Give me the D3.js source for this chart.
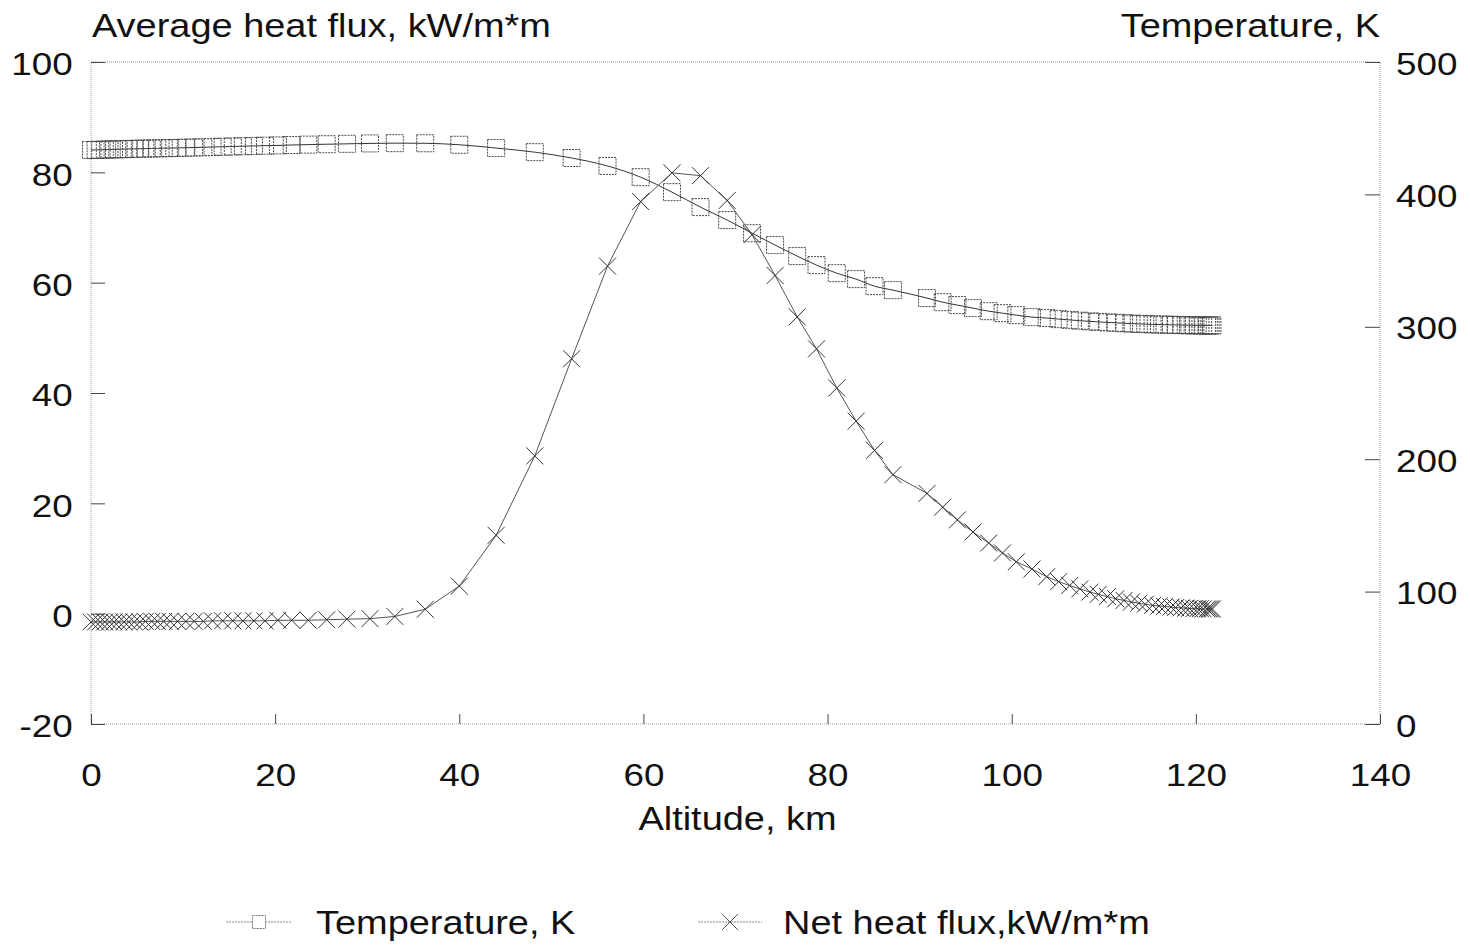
<!DOCTYPE html>
<html><head><meta charset="utf-8">
<script src="https://cdn.jsdelivr.net/npm/d3@7"></script>
<style>
body{margin:0;background:#fff}
svg text{font-family:"Liberation Sans",Arial,Helvetica,sans-serif;fill:#111}
</style>
</head><body>
<svg id="chart" width="1470" height="946"></svg>
<script>
// ---- data ----
const altitude = [0.0,0.5,1.0,1.5,2.0,2.5,3.0,3.6,4.1,4.7,5.3,5.9,6.6,7.2,7.9,8.6,9.4,10.3,11.2,12.2,
  13.2,14.3,15.4,16.5,17.7,18.9,20.3,21.8,23.6,25.6,27.8,30.3,33.0,36.3,40.0,44.0,48.2,52.2,56.1,59.7,
  63.1,66.2,69.1,71.8,74.3,76.7,78.8,81.0,83.1,85.1,87.1,90.8,92.5,94.1,95.8,97.5,99.0,100.5,102.2,103.8,
  105.1,106.3,107.4,108.5,109.4,110.4,111.3,112.2,113.0,113.8,114.5,115.3,116.0,116.6,117.3,117.8,118.4,118.9,119.3,119.8,
  120.2,120.5,120.8,121.2,121.4,121.6,121.8];
const temperature = [433.5,433.6,433.7,433.8,433.9,434.0,434.1,434.2,434.3,434.4,434.5,434.6,434.7,434.8,434.9,435.0,435.1,435.3,435.4,435.6,
  435.8,436.0,436.2,436.4,436.6,436.8,437.0,437.3,437.6,437.9,438.2,438.5,438.7,438.6,437.5,435.0,431.9,427.5,421.5,413.0,
  401.7,390.4,380.6,370.7,361.7,353.4,346.6,340.5,336.0,330.7,327.7,321.7,318.6,316.4,314.1,311.8,310.3,308.8,307.3,306.6,
  305.8,305.2,304.6,304.1,303.7,303.3,303.0,302.7,302.4,302.2,302.0,301.8,301.7,301.6,301.5,301.4,301.3,301.2,301.2,301.1,
  301.1,301.0,301.0,301.0,301.0,301.0,301.0];
const netHeatFlux = [-1.5,-1.5,-1.5,-1.5,-1.5,-1.5,-1.5,-1.5,-1.5,-1.5,-1.5,-1.4,-1.4,-1.4,-1.4,-1.4,-1.4,-1.4,-1.4,-1.4,
  -1.3,-1.3,-1.3,-1.3,-1.3,-1.3,-1.2,-1.2,-1.2,-1.1,-1.0,-0.9,-0.5,0.8,5.0,14.2,28.6,46.2,63.0,74.7,
  79.9,79.4,74.9,68.7,61.3,53.8,48.0,40.9,34.9,29.6,25.2,21.8,19.3,17.0,14.8,12.8,11.0,9.4,8.1,6.7,
  5.8,5.1,4.5,3.9,3.5,3.1,2.7,2.4,2.1,1.9,1.7,1.5,1.4,1.3,1.2,1.1,1.05,1.0,0.95,0.9,
  0.9,0.9,0.85,0.85,0.85,0.85,0.85];
const xTicks = [0,20,40,60,80,100,120,140];
const fluxTicks = [-20,0,20,40,60,80,100];
const tempTicks = [0,100,200,300,400,500];
const leftTitle = "Average heat flux, kW/m*m";
const rightTitle = "Temperature, K";
const xTitle = "Altitude, km";
const seriesNames = ["Temperature, K", "Net heat flux,kW/m*m"];

// ---- layout ----
const L = 91, R = 1380, T = 62, B = 724;
const SX = 1.15, FS = 32, FT = 33;
const svg = d3.select("#chart");
const x = d3.scaleLinear().domain([0,140]).range([L,R]);
const yF = d3.scaleLinear().domain([-20,100]).range([B,T]);
const yT = d3.scaleLinear().domain([0,500]).range([B,T]);
const fmt = d => String(d);

function label(px, py, str, anchor){
  const g = svg.append("g").attr("transform", `translate(${px},${py}) scale(${SX},1)`);
  g.append("text").attr("text-anchor", anchor).attr("font-size", FT).text(str);
  return g;
}

// frame
const frame = svg.append("g").attr("stroke","#999").attr("stroke-width",1).attr("stroke-dasharray","1,1").attr("fill","none");
frame.append("rect").attr("x",L).attr("y",T).attr("width",R-L).attr("height",B-T);

function styleAxis(g){
  g.select(".domain").remove();
  g.selectAll(".tick line").attr("stroke","#444").attr("stroke-width",1);
  g.selectAll(".tick text").attr("font-size",FS).attr("fill","#111")
    .attr("font-family",'"Liberation Sans",Arial,sans-serif')
    .attr("transform",`scale(${SX},1)`);
}

const gl = svg.append("g").attr("transform",`translate(${L},0)`)
  .call(d3.axisLeft(yF).tickValues(fluxTicks).tickSize(-14).tickPadding(16).tickFormat(fmt));
styleAxis(gl);
gl.selectAll(".tick text").attr("dy","0.40em");

const gr = svg.append("g").attr("transform",`translate(${R},0)`)
  .call(d3.axisRight(yT).tickValues(tempTicks).tickSize(-15).tickPadding(14).tickFormat(fmt));
styleAxis(gr);
gr.selectAll(".tick text").attr("dy","0.38em");

const gb = svg.append("g").attr("transform",`translate(0,${B})`)
  .call(d3.axisBottom(x).tickValues(xTicks).tickSize(-10).tickPadding(39).tickFormat(fmt));
styleAxis(gb);

// titles
label(L+1, 37, leftTitle, "start");
label(R, 37, rightTitle, "end");
label(x(70)+2, 830, xTitle, "middle");

const tempData = altitude.map((a,i)=>({a, v: temperature[i]}));
const fluxData = altitude.map((a,i)=>({a, v: netHeatFlux[i]}));

// temperature series
svg.append("path").datum(tempData)
  .attr("fill","none").attr("stroke","#333").attr("stroke-width",1)
  .attr("d", d3.line().x(d=>x(d.a)).y(d=>yT(d.v)).curve(d3.curveMonotoneX));

const sq = 17;
svg.append("g").selectAll("rect").data(tempData).join("rect")
  .attr("x", d=>x(d.a)-sq/2).attr("y", d=>yT(d.v)-sq/2)
  .attr("width",sq).attr("height",sq)
  .attr("fill","none").attr("stroke","#4a4a4a").attr("stroke-width",1).attr("stroke-dasharray","2,1");

// flux series
svg.append("path").datum(fluxData)
  .attr("fill","none").attr("stroke","#555").attr("stroke-width",1)
  .attr("d", d3.line().x(d=>x(d.a)).y(d=>yF(d.v)));

const xs = 8.5;
svg.append("g").selectAll("path").data(fluxData).join("path")
  .attr("d", d=>{const cx=x(d.a), cy=yF(d.v);
    return `M${cx-xs},${cy-xs}L${cx+xs},${cy+xs}M${cx-xs},${cy+xs}L${cx+xs},${cy-xs}`;})
  .attr("fill","none").attr("stroke","#333").attr("stroke-width",1);

// legend
const ly = 922;
const lg = svg.append("g");
lg.append("line").attr("x1",226).attr("x2",292).attr("y1",ly).attr("y2",ly)
  .attr("stroke","#888").attr("stroke-dasharray","2,1");
lg.append("rect").attr("x",259-6.5).attr("y",ly-6.5).attr("width",13).attr("height",13)
  .attr("fill","#fff").attr("stroke","#777").attr("stroke-dasharray","2,1");
label(316, ly+12, seriesNames[0], "start");
lg.append("line").attr("x1",698).attr("x2",762).attr("y1",ly).attr("y2",ly)
  .attr("stroke","#888").attr("stroke-dasharray","2,1");
lg.append("path").attr("d",`M${730-8},${ly-8}L${730+8},${ly+8}M${730-8},${ly+8}L${730+8},${ly-8}`)
  .attr("stroke","#555").attr("fill","none");
label(783, ly+12, seriesNames[1], "start");
</script>
</body></html>
